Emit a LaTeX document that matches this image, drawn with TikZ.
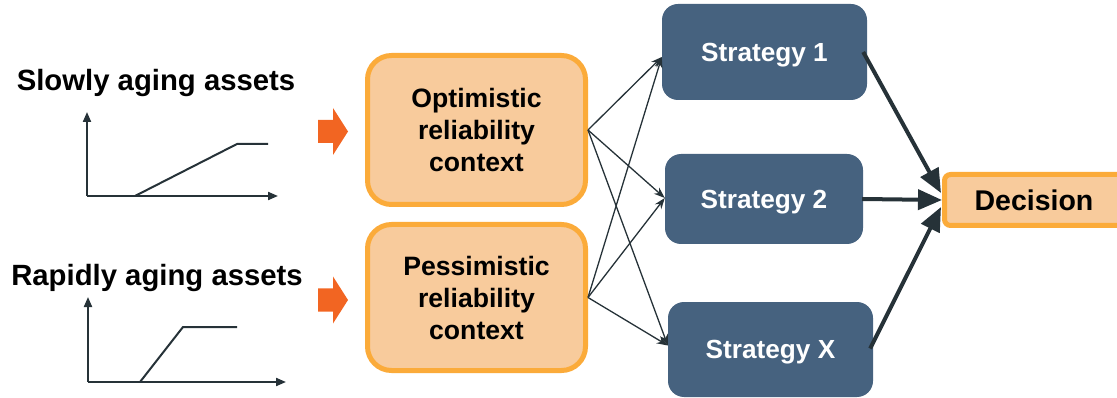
\documentclass[tikz,border=0pt]{standalone}
\usepackage{fontspec}
\setmainfont{Liberation Sans}
\usepackage{tikz}
\usetikzlibrary{arrows.meta,positioning,calc}

\definecolor{peach}{HTML}{F8CB9C}
\definecolor{ctxorange}{HTML}{FBAB3A}
\definecolor{slate}{HTML}{46627F}
\definecolor{darkline}{HTML}{263238}
\definecolor{blockorange}{HTML}{F26522}

\begin{document}
\begin{tikzpicture}[x=1pt, y=-1pt,
    context/.style={draw=ctxorange, line width=5pt, fill=peach, rounded corners=24pt,
      align=center, font=\fontsize{26.6}{32}\selectfont\bfseries},
    strategy/.style={fill=slate, rounded corners=16pt, text=white, text depth=0pt,
      font=\fontsize{26.2}{30}\selectfont\bfseries},
    thinarrow/.style={-{Stealth[length=11pt,width=8pt]}, line width=1.3pt, draw=darkline},
    thickarrow/.style={-{Triangle[length=24pt,width=20pt]}, line width=4pt, draw=darkline},
    axis/.style={-{Triangle[length=10pt,width=8pt]}, line width=2pt, draw=darkline},
    curve/.style={line width=2pt, draw=darkline}]
  \useasboundingbox (0,0) rectangle (1117,398);

  % Asset types with aging curves
  \node[font=\fontsize{29.3}{34}\selectfont\bfseries] (slowlbl) at (156,83) {Slowly aging assets};
  \node[font=\fontsize{29.3}{34}\selectfont\bfseries] (rapidlbl) at (157,278) {Rapidly aging assets};

  \draw[axis] (87,196) -- (87,112);
  \draw[axis] (87,196) -- (278,196);
  \draw[curve] (135,196) -- (237,144) -- (268,144);

  \draw[axis] (88,382) -- (88,297);
  \draw[axis] (88,382) -- (286,382);
  \draw[curve] (140,382) -- (183,327) -- (237,327);

  % Block arrows into the contexts
  \foreach \y in {131.5, 300} {
    \fill[blockorange] (318,\y-11.5) -- (333,\y-11.5) -- (333,\y-23.5) -- (348,\y)
      -- (333,\y+23.5) -- (333,\y+11.5) -- (318,\y+11.5) -- cycle;
  }

  % Reliability contexts
  \node[context, minimum width=218pt, minimum height=149pt] (opt) at (476.5,130)
    {Optimistic\\reliability\\context};
  \node[context, minimum width=218pt, minimum height=146pt] (pes) at (476.5,297.5)
    {Pessimistic\\reliability\\context};

  % Strategies
  \node[strategy, minimum width=205pt, minimum height=96pt] (s1) at (764.5,52) {Strategy 1};
  \node[strategy, minimum width=198pt, minimum height=90pt] (s2) at (764,199) {Strategy 2};
  \node[strategy, minimum width=205pt, minimum height=95pt] (sx) at (770.5,349.5) {Strategy X};

  % Decision
  \node[draw=ctxorange, line width=5pt, fill=peach, rounded corners=6pt,
    minimum width=184pt, minimum height=51pt] (dec) at (1036.5,200) {};
  \node[font=\fontsize{28.5}{32}\selectfont\bfseries] (declbl) at (1034,200) {Decision};

  % Every context to every strategy
  \foreach \c in {opt, pes} {
    \draw[thinarrow] (\c.east) -- ($(s1.west)+(0,5)$);
    \draw[thinarrow] (\c.east) -- ($(s2.west)+(0,-1)$);
    \draw[thinarrow] (\c.east) -- ($(sx.west)+(0,-4)$);
  }

  % Strategies to decision
  \draw[thickarrow] ($(s1.east)+(-4,0)$) -- ($(dec.west)+(-1,-7)$);
  \draw[thickarrow] ($(s2.east)+(-1,0)$) -- (dec.west);
  \draw[thickarrow] ($(sx.east)+(-3,-1)$) -- ($(dec.west)+(-1,7)$);
\end{tikzpicture}
\end{document}
